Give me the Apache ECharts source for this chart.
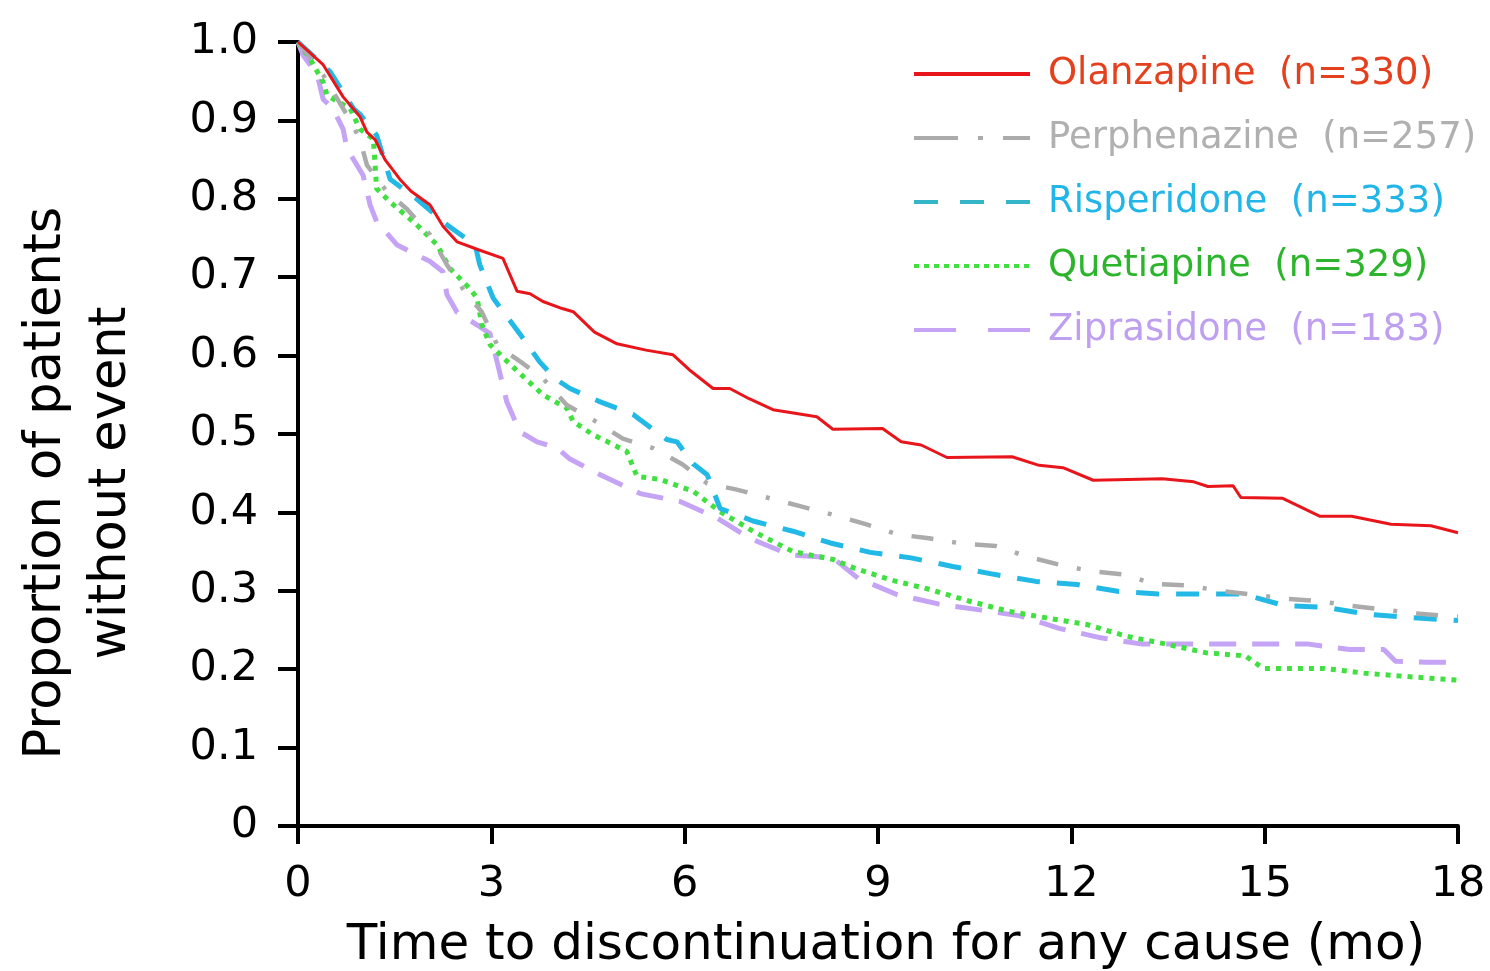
<!DOCTYPE html>
<html>
<head>
<meta charset="utf-8">
<script src="https://cdn.jsdelivr.net/npm/echarts@6/dist/echarts.min.js"></script>
<style>
  html, body { margin: 0; padding: 0; background: #fff; }
  #chart { width: 1490px; height: 971px; }
</style>
</head>
<body>
<div id="chart"></div>
<script>
// Kaplan-Meier curves: [month, proportion]
var olanzapine = [[0,1.0],[0.39,0.971],[0.7,0.93],[0.96,0.905],[1.07,0.885],[1.2,0.875],[1.35,0.85],[1.58,0.825],[1.75,0.81],[2.05,0.792],[2.25,0.765],[2.47,0.745],[2.8,0.735],[3.18,0.724],[3.4,0.682],[3.6,0.679],[3.8,0.669],[4.1,0.66],[4.27,0.656],[4.6,0.63],[4.95,0.615],[5.4,0.607],[5.82,0.601],[6.1,0.58],[6.44,0.558],[6.7,0.558],[7.0,0.545],[7.37,0.531],[8.05,0.522],[8.3,0.506],[9.07,0.507],[9.36,0.49],[9.67,0.486],[10.07,0.47],[11.08,0.471],[11.5,0.46],[11.87,0.457],[12.34,0.441],[13.41,0.443],[13.9,0.439],[14.12,0.433],[14.51,0.434],[14.63,0.419],[15.28,0.418],[15.86,0.395],[16.35,0.395],[16.96,0.385],[17.58,0.383],[18,0.374]];
var perphenazine = [[0,1.0],[0.39,0.958],[0.81,0.9],[0.96,0.876],[1.07,0.843],[1.38,0.809],[1.69,0.787],[2.05,0.754],[2.31,0.716],[2.6,0.68],[2.85,0.656],[3.1,0.612],[3.49,0.59],[3.8,0.571],[4.17,0.537],[4.58,0.518],[5.04,0.494],[5.51,0.482],[5.97,0.461],[6.35,0.437],[6.81,0.429],[7.32,0.418],[7.79,0.408],[8.3,0.397],[8.81,0.385],[9.3,0.372],[9.79,0.367],[10.32,0.36],[10.83,0.357],[11.3,0.344],[11.78,0.334],[12.3,0.325],[12.8,0.321],[13.28,0.309],[13.78,0.307],[14.31,0.3],[14.82,0.295],[15.31,0.29],[15.83,0.287],[16.32,0.281],[16.85,0.276],[17.34,0.271],[18,0.267]];
var risperidone = [[0,1.0],[0.5,0.962],[0.86,0.915],[0.96,0.908],[1.22,0.881],[1.43,0.825],[1.84,0.8],[2.31,0.767],[2.75,0.741],[2.82,0.716],[3.03,0.673],[3.44,0.628],[3.75,0.592],[4.0,0.57],[4.22,0.558],[4.69,0.541],[5.2,0.525],[5.72,0.493],[5.88,0.49],[6.13,0.462],[6.35,0.448],[6.55,0.405],[7.06,0.389],[7.68,0.376],[8.26,0.361],[8.88,0.349],[9.51,0.342],[10.16,0.331],[10.8,0.321],[11.45,0.312],[12.09,0.308],[12.74,0.299],[13.35,0.296],[14.03,0.296],[14.66,0.296],[15.31,0.281],[15.95,0.279],[16.6,0.27],[17.24,0.266],[18,0.262]];
var quetiapine = [[0,1.0],[0.19,0.978],[0.39,0.949],[0.45,0.932],[0.81,0.915],[0.96,0.889],[1.17,0.876],[1.22,0.813],[1.43,0.796],[1.84,0.767],[2.16,0.741],[2.36,0.711],[2.67,0.685],[2.78,0.673],[2.85,0.64],[2.98,0.614],[3.29,0.589],[3.8,0.55],[4.17,0.533],[4.27,0.516],[4.58,0.499],[5.1,0.478],[5.26,0.446],[5.62,0.442],[6.13,0.427],[6.55,0.401],[7.06,0.376],[7.68,0.35],[8.3,0.34],[8.63,0.329],[9.19,0.314],[9.79,0.302],[10.41,0.287],[11.02,0.274],[11.64,0.265],[12.24,0.257],[12.86,0.242],[13.47,0.232],[14.09,0.221],[14.7,0.217],[14.98,0.201],[15.92,0.201],[16.54,0.195],[17.15,0.191],[18,0.186]];
var ziprasidone = [[0,1.0],[0.08,0.983],[0.3,0.958],[0.39,0.927],[0.54,0.915],[0.7,0.889],[0.76,0.864],[1.01,0.83],[1.12,0.792],[1.22,0.771],[1.54,0.741],[2.05,0.72],[2.25,0.707],[2.31,0.678],[2.47,0.655],[2.78,0.639],[2.98,0.628],[3.09,0.592],[3.24,0.541],[3.44,0.503],[3.71,0.49],[4.02,0.482],[4.22,0.468],[4.69,0.448],[5.31,0.424],[5.93,0.414],[6.5,0.393],[7.01,0.367],[7.63,0.346],[8.3,0.342],[8.69,0.316],[9.3,0.295],[9.95,0.283],[10.55,0.276],[11.2,0.268],[11.81,0.252],[12.46,0.24],[13.1,0.232],[13.75,0.232],[14.39,0.232],[15.04,0.232],[15.68,0.232],[16.32,0.225],[16.85,0.225],[17.03,0.21],[17.52,0.209],[17.85,0.209]];

var seriesNames = ['Olanzapine  (n=330)', 'Perphenazine  (n=257)', 'Risperidone  (n=333)', 'Quetiapine  (n=329)', 'Ziprasidone  (n=183)'];
var seriesData = [olanzapine, perphenazine, risperidone, quetiapine, ziprasidone];
var xTicks = [0, 3, 6, 9, 12, 15, 18];

// line look per drug
var lineColors = ['#e8161b', '#ababab', '#22b9e6', '#3fe03f', '#c5a3f5'];
var legendLineColors = ['#e8161b', '#ababab', '#35b5c8', '#3fe03f', '#c5a3f5'];
var textColors = ['#e5401e', '#b0b0b0', '#22b5e8', '#2cb52c', '#bf9ff0'];
var lineWidths = [3, 4.5, 5, 5, 5];
var lineTypes = ['solid', [22, 19, 4, 19], [23, 17], [5, 6], [27, 16]];
// legend swatches use their own, longer dashes
var legendTypes = ['solid', [44, 20, 5, 20], [24, 22], [5, 5], [42, 32]];

var FONT = '"DejaVu Sans", Verdana, sans-serif';

var chart = echarts.init(document.getElementById('chart'));

var series = seriesData.map(function (d, i) {
    return {
        name: seriesNames[i],
        type: 'line',
        data: d,
        symbol: 'none',
        showSymbol: false,
        z: 10 - i,
        lineStyle: {
            color: lineColors[i],
            width: lineWidths[i],
            type: lineTypes[i],
            cap: 'butt'
        },
        itemStyle: { color: lineColors[i] }
    };
});

chart.setOption({
    animation: false,
    backgroundColor: '#fff',
    grid: { left: 298, right: 32, top: 42, bottom: 145, outerBoundsMode: 'none', containLabel: false },
    legend: {
        orient: 'vertical',
        left: 912,
        top: 52,
        padding: 0,
        itemWidth: 116,
        itemHeight: 24,
        itemGap: 20,
        itemStyle: { opacity: 0 },
        data: seriesNames.map(function (n, i) {
            return {
                name: n,
                textStyle: { color: textColors[i] },
                itemStyle: { opacity: 0 },
                lineStyle: { width: 4, type: legendTypes[i], color: legendLineColors[i], cap: 'butt' }
            };
        }),
        textStyle: {
            fontFamily: FONT,
            fontSize: 37,
            lineHeight: 44,
            padding: [0, 0, 0, 13]
        }
    },
    xAxis: {
        type: 'value',
        min: 0,
        max: 18,
        interval: 3,
        name: 'Time to discontinuation for any cause (mo)',
        nameLocation: 'middle',
        nameGap: 95,
        nameTextStyle: { fontFamily: FONT, fontSize: 50, color: '#000', padding: [0, 0, 0, 16] },
        axisLine: { lineStyle: { color: '#000', width: 4 } },
        axisTick: { length: 18, lineStyle: { color: '#000', width: 4 } },
        axisLabel: {
            margin: 37,
            fontFamily: FONT,
            fontSize: 43,
            color: '#000',
            formatter: function (v) { return xTicks.indexOf(v) >= 0 ? String(v) : ''; }
        },
        splitLine: { show: false }
    },
    yAxis: {
        type: 'value',
        min: 0,
        max: 1,
        interval: 0.1,
        axisLine: { show: true, lineStyle: { color: '#000', width: 4 } },
        axisTick: { show: true, length: 20, lineStyle: { color: '#000', width: 4 } },
        axisLabel: {
            margin: 40,
            fontFamily: FONT,
            fontSize: 43,
            color: '#000',
            formatter: function (v) { return v === 0 ? '0' : v.toFixed(1); }
        },
        splitLine: { show: false }
    },
    graphic: [{
        type: 'text',
        x: 79,
        y: 483,
        rotation: Math.PI / 2,
        style: {
            text: 'Proportion of patients\nwithout event',
            font: '51px ' + FONT,
            fill: '#000',
            align: 'center',
            verticalAlign: 'middle',
            lineHeight: 65
        }
    }],
    series: series
});
</script>
</body>
</html>
